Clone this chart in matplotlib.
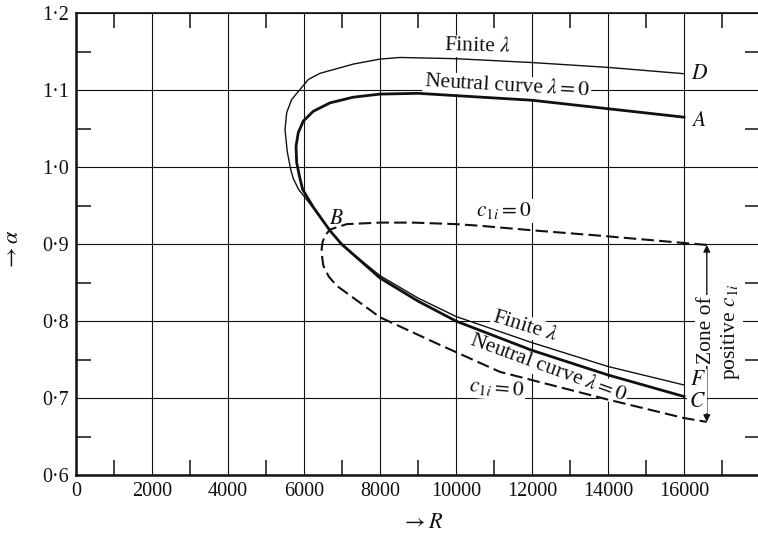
import matplotlib
matplotlib.use('Agg')
import matplotlib.pyplot as plt

plt.rcParams['font.family'] = ['Liberation Serif', 'DejaVu Serif']
plt.rcParams['mathtext.fontset'] = 'stix'

# ---------------- data ----------------
# Neutral curve lambda = 0 : from C (lower branch) round the nose to A
neutral_R = [16000, 14000, 12000, 10000, 9000, 8000, 6990, 6684, 6245, 5965,
             5877, 5807, 5790, 5850, 5982, 6245, 6684, 7298, 8000, 9000,
             10000, 12000, 14000, 16000]
neutral_a = [0.702, 0.730, 0.762, 0.800, 0.826, 0.856, 0.900, 0.9175, 0.948, 0.971,
             0.989, 1.006, 1.027, 1.045, 1.060, 1.0727, 1.0836, 1.091, 1.095, 1.096,
             1.093, 1.087, 1.076, 1.065]

# Finite lambda : from F round the nose to D
finite_R = [16000, 14000, 12000, 10000, 9000, 8000, 7000, 6684, 6245, 5860,
            5720, 5650, 5560, 5500, 5545, 5675, 5895, 6114, 6421, 7298, 8000,
            8526, 10000, 12000, 14000, 16000]
finite_a = [0.717, 0.741, 0.772, 0.806, 0.830, 0.859, 0.899, 0.918, 0.947, 0.971,
            0.985, 0.997, 1.020, 1.049, 1.071, 1.088, 1.101, 1.114, 1.122, 1.134, 1.1405,
            1.1426, 1.141, 1.136, 1.1297, 1.1215]

# c_{1i} = 0 : from the upper end round the nose to the lower end
c1i_R = [16600, 16000, 13790, 12000, 10600, 10000, 8880, 8000, 7123, 6684,
         6553, 6490, 6465, 6480, 6509, 6650, 6860, 8000, 9580, 11158, 14000,
         16000, 16600]
c1i_a = [0.899, 0.9015, 0.911, 0.918, 0.924, 0.926, 0.928, 0.928, 0.926, 0.919,
         0.911, 0.903, 0.894, 0.882, 0.872, 0.858, 0.846, 0.805, 0.769, 0.734, 0.698,
         0.674, 0.669]

zone_R = 16600
zone_top = 0.899
zone_bottom = 0.669

xticks = [0, 2000, 4000, 6000, 8000, 10000, 12000, 14000, 16000]
xtick_labels = ['0', '2000', '4000', '6000', '8000', '10000', '12000', '14000', '16000']
xminor = [1000, 3000, 5000, 7000, 9000, 11000, 13000, 15000, 17000]
yticks = [0.6, 0.7, 0.8, 0.9, 1.0, 1.1, 1.2]
ytick_labels = ['0·6', '0·7', '0·8', '0·9', '1·0', '1·1', '1·2']
yminor = [0.65, 0.75, 0.85, 0.95, 1.05, 1.15]

# ---------------- figure ----------------
fig = plt.figure(figsize=(7.58, 5.43), dpi=100)
ax = fig.add_axes([76 / 758, 68 / 543, 684 / 758, 461.7 / 543])
ax.set_xlim(0, 18000)
ax.set_ylim(0.6, 1.2)

ax.set_xticks(xticks)
ax.set_xticklabels(xtick_labels)
ax.set_yticks(yticks)
ax.set_yticklabels(ytick_labels)
ax.set_xticks(xminor, minor=True)
ax.set_yticks(yminor, minor=True)
ax.tick_params(which='major', length=0, labelsize=14.5, pad=5, colors='#111111')
ax.tick_params(which='minor', direction='in', length=11, width=1.1,
               top=True, right=True, bottom=True, left=True, colors='#111111')
ax.grid(True, which='major', color='#111111', lw=0.8)

for side, lw in [('left', 1.8), ('bottom', 1.8), ('top', 1.2), ('right', 1.2)]:
    ax.spines[side].set_linewidth(lw)
    ax.spines[side].set_color('#111111')

# curves
ax.plot(neutral_R, neutral_a, color='#111111', lw=2.0, zorder=4,
        solid_joinstyle='round')
ax.plot(finite_R, finite_a, color='#111111', lw=1.0, zorder=4,
        solid_joinstyle='round')
ax.plot(c1i_R, c1i_a, color='#111111', lw=1.5, zorder=4, dashes=(6, 2.5))

# zone arrow
ax.annotate('', xy=(zone_R, zone_bottom), xytext=(zone_R, zone_top),
            arrowprops=dict(arrowstyle='<|-|>', color='#111111', lw=1.0,
                            mutation_scale=10, shrinkA=0, shrinkB=0), zorder=2)

wb = dict(facecolor='white', edgecolor='none', pad=1.0)
fs = 15.5

def label(x, y, s, rot=0, size=fs, z=3, **kw):
    ax.text(x, y, s, rotation=rot, fontsize=size, ha='center', va='center',
            rotation_mode='anchor', bbox=wb, zorder=z, color='#111111', **kw)

label(10579, 1.1564, r'Finite $\lambda$', rot=-1.5)
label(11342, 1.1047, r'Neutral curve $\lambda=0$', rot=-3.3)
label(16421, 1.120, r'$D$', z=5)
label(16395, 1.0593, r'$A$', z=5)
label(6842, 0.9326, r'$B$')
label(11263, 0.9432, r'$c_{1i}=0$')
label(11816, 0.7931, r'Finite $\lambda$', rot=-17)
label(12421, 0.7388, r'Neutral curve $\lambda=0$', rot=-20)
label(11079, 0.7129, r'$c_{1i}=0$', rot=-5)
label(16368, 0.7233, r'$F$', z=5)
label(16342, 0.6948, r'$C$', z=5)
label(16579, 0.7877, 'Zone of', rot=90)
label(17211, 0.7864, 'positive $c_{1i}$', rot=90)

fig.text(0.5567, 0.035, r'$\rightarrow R$', fontsize=16, ha='center',
         va='center', color='#111111')
fig.text(0.0172, 0.5396, r'$\rightarrow\alpha$', fontsize=16, ha='center',
         va='center', rotation=90, color='#111111')

fig.savefig('out.png', dpi=100)
